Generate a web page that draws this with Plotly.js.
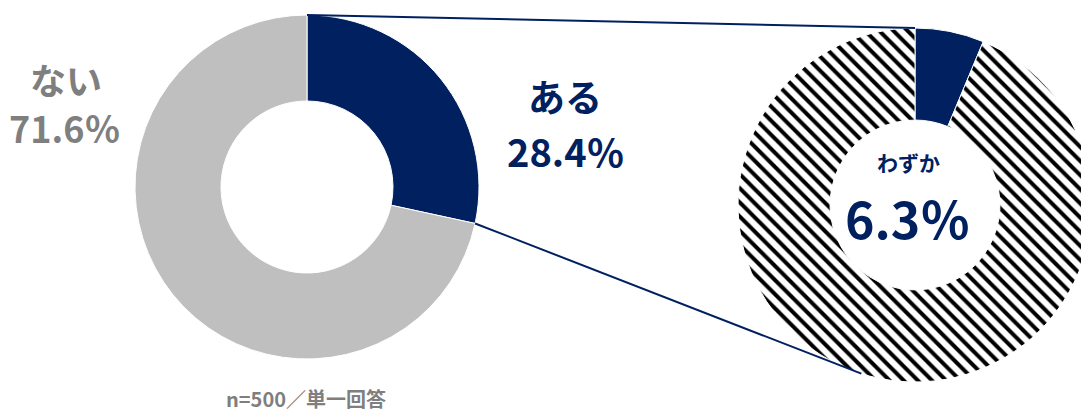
<!DOCTYPE html>
<html><head><meta charset="utf-8">
<script src="https://cdn.plot.ly/plotly-3.0.1.min.js"></script>
<style>html,body{margin:0;padding:0;overflow:hidden;background:#fff;width:1081px;height:414px}#chart{width:1100px;height:414px}</style>
</head><body><div id="chart"></div>
<script>
// ---- data ----
const mainLabels = ['ある', 'ない'];
const mainValues = [28.4, 71.6];
const subLabels = ['わずか', 'その他'];
const subValues = [6.3, 93.7];
const footnote = 'n=500／単一回答';

// ---- layout geometry (pixels) ----
const W = 1100, H = 414;
const L = {cx: 307, cy: 187, r: 172};
const R = {cx: 915, cy: 205, r: 177};
const NAVY = '#002060', GRAY = '#bfbfbf', TGRAY = '#7f7f7f';
const FONT = '"Noto Sans CJK JP", "Noto Sans", sans-serif';

function dom(c) { return {x: [(c.cx - c.r) / W, (c.cx + c.r) / W], y: [1 - (c.cy + c.r) / H, 1 - (c.cy - c.r) / H]}; }
function pt(c, frac) { const a = frac * 2 * Math.PI; return [c.cx + c.r * Math.sin(a), c.cy - c.r * Math.cos(a)]; }
function px(x) { return x / W; }
function py(y) { return 1 - y / H; }

const total = mainValues.reduce((a, b) => a + b, 0);
const yesFrac = mainValues[0] / total;

const traces = [
  {type: 'pie', labels: mainLabels, values: mainValues, sort: false, direction: 'clockwise', rotation: 0,
   hole: 0.5, domain: dom(L), textinfo: 'none', hoverinfo: 'skip', showlegend: false,
   marker: {colors: [NAVY, GRAY], line: {color: '#ffffff', width: 1}}},
  {type: 'pie', labels: subLabels, values: subValues, sort: false, direction: 'clockwise', rotation: 0,
   hole: 0.48, domain: dom(R), textinfo: 'none', hoverinfo: 'skip', showlegend: false,
   marker: {colors: [NAVY, '#ffffff'], line: {color: '#ffffff', width: 1},
            pattern: {shape: ['', '\\'], fgcolor: '#000000', bgcolor: '#ffffff', size: 10, solidity: 0.4}}}
];

const a0 = pt(L, 0), b0 = pt(R, 0);
const a1 = pt(L, yesFrac), b1 = pt(R, 0.549);
const shapes = [
  {type: 'line', xref: 'paper', yref: 'paper', x0: px(a0[0]), y0: py(a0[1]), x1: px(b0[0]), y1: py(b0[1]), line: {color: NAVY, width: 2}},
  {type: 'line', xref: 'paper', yref: 'paper', x0: px(a1[0]), y0: py(a1[1]), x1: px(b1[0]), y1: py(b1[1]), line: {color: NAVY, width: 2}}
];

function ann(text, x, y, size, color) {
  return {text: text, xref: 'paper', yref: 'paper', x: px(x), y: py(y), xanchor: 'center', yanchor: 'middle',
          showarrow: false, font: {family: FONT, size: size, color: color, weight: 700}};
}
const annotations = [
  ann('<b>' + mainLabels[1] + '</b>', 66, 79, 36, TGRAY),
  ann('<b>' + mainValues[1].toFixed(1) + '％</b>', 64, 127, 36, TGRAY),
  ann('<b>' + mainLabels[0] + '</b>', 565, 96, 37, NAVY),
  ann('<b>' + mainValues[0].toFixed(1) + '％</b>', 566, 150, 38, NAVY),
  ann('<b>' + subLabels[0] + '</b>', 908, 162, 21, NAVY),
  ann('<b>' + subValues[0].toFixed(1) + '％</b>', 907, 217, 50, NAVY),
  ann('<b>' + footnote + '</b>', 306, 398, 20, TGRAY)
];

Plotly.newPlot('chart', traces, {
  width: W, height: H, margin: {l: 0, r: 0, t: 0, b: 0},
  paper_bgcolor: '#ffffff', plot_bgcolor: '#ffffff',
  shapes: shapes, annotations: annotations, showlegend: false
}, {staticPlot: true});
</script></body></html>
